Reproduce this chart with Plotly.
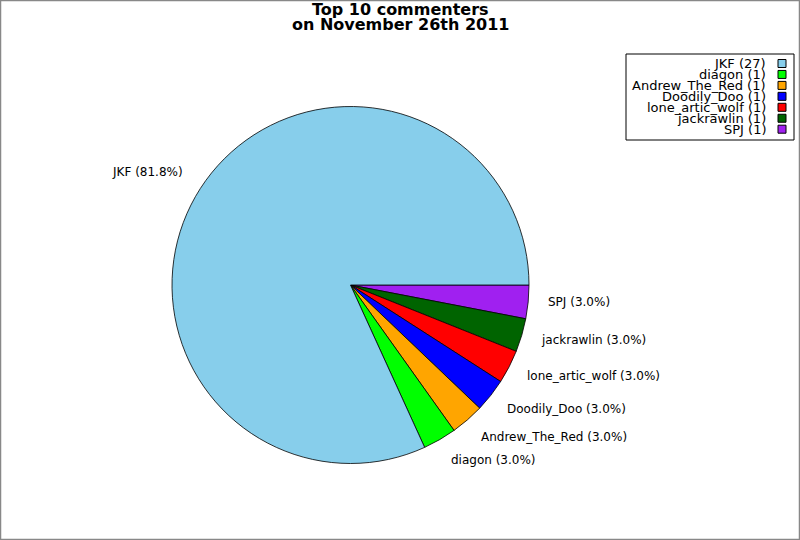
import math
import plotly.graph_objects as go

names = ["JKF", "diagon", "Andrew_The_Red", "Doodily_Doo", "lone_artic_wolf", "jackrawlin", "SPJ"]
counts = [27, 1, 1, 1, 1, 1, 1]
colors = ["#87CEEB", "#00FF00", "#FFA500", "#0000FF", "#FF0000", "#006400", "#A020F0"]
title_lines = ["Top 10 commenters", "on November 26th 2011"]

W, H = 800, 540
cx, cy, r = 350.5, 285.0, 178.5  # pixel geometry of pie
FONT = "DejaVu Sans"

fig = go.Figure()
# clockwise with reversed order == counterclockwise from 3 o'clock in original order
fig.add_trace(go.Pie(
    labels=names[::-1], values=counts[::-1], sort=False, direction="clockwise",
    rotation=90, marker=dict(colors=colors[::-1], line=dict(color="black", width=0.8)),
    textinfo="none", hoverinfo="label+value+percent", showlegend=False,
    domain=dict(x=[(cx - r) / W, (cx + r) / W], y=[(H - cy - r) / H, (H - cy + r) / H]),
))

total = sum(counts)
annotations = []
shapes = []
# slice labels placed just outside the pie
start = 0.0
for n, v in zip(names, counts):
    ang = start + 360.0 * v / total / 2
    start += 360.0 * v / total
    a = math.radians(ang)
    px = cx + 1.1 * r * math.cos(a)
    py = cy - 2.5 - 1.148 * r * math.sin(a)
    annotations.append(dict(
        x=px / W, y=1 - py / H, xref="paper", yref="paper", showarrow=False,
        text=f"{n} ({100.0 * v / total:.1f}%)",
        xanchor="left" if px > cx else "right", yanchor="middle",
        font=dict(family=FONT, size=12, color="black")))

# title (two lines)
for i, t in enumerate(title_lines):
    annotations.append(dict(
        x=400 / W, y=1 - (10 + 14.5 * i) / H, xref="paper", yref="paper", showarrow=False,
        text=f"<b>{t}</b>", xanchor="center", yanchor="middle",
        font=dict(family=FONT, size=16, color="black")))

# manual legend (text right-aligned, marker on the right)
lx0, ly0, lx1, ly1 = 626, 54, 794, 140
shapes.append(dict(type="rect", xref="paper", yref="paper",
                   x0=lx0 / W, x1=lx1 / W, y0=1 - ly1 / H, y1=1 - ly0 / H,
                   line=dict(color="black", width=1), fillcolor="white"))
for i, (n, v, c) in enumerate(zip(names, counts, colors)):
    yy = 63.5 + i * 10.95
    annotations.append(dict(
        x=768 / W, y=1 - yy / H, xref="paper", yref="paper", showarrow=False,
        text=f"{n} ({v})", xanchor="right", yanchor="middle",
        font=dict(family=FONT, size=13, color="black")))
    shapes.append(dict(type="rect", xref="paper", yref="paper",
                       x0=778 / W, x1=786 / W, y0=1 - (yy + 4) / H, y1=1 - (yy - 4) / H,
                       line=dict(color="black", width=1), fillcolor=c))

# outer frame
shapes.append(dict(type="rect", xref="paper", yref="paper", x0=0.5 / W, x1=1 - 0.5 / W,
                   y0=0.5 / H, y1=1 - 0.5 / H, line=dict(color="#888888", width=1.5)))

fig.update_layout(
    width=W, height=H, margin=dict(l=0, r=0, t=0, b=0),
    paper_bgcolor="white", plot_bgcolor="white",
    annotations=annotations, shapes=shapes,
    font=dict(family=FONT),
)
fig.write_html("out.html", config={"displayModeBar": False},
               post_script="document.body.style.margin='0';document.body.style.overflow='hidden';")
